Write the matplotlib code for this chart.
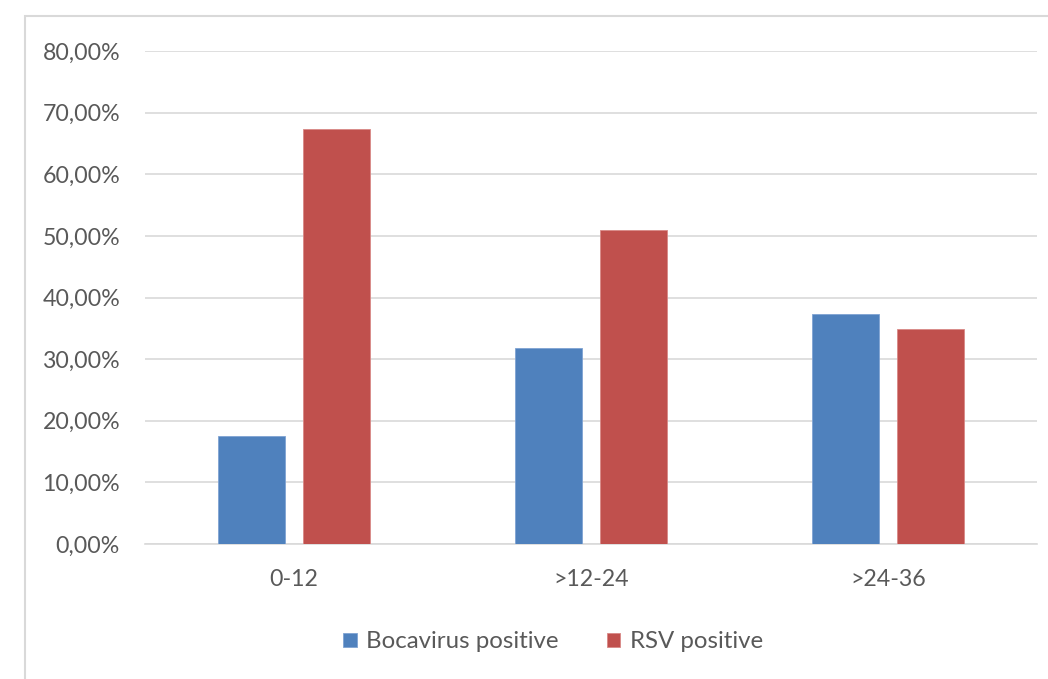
import numpy as np
import matplotlib.pyplot as plt
from matplotlib.patches import Rectangle
from matplotlib.ticker import FuncFormatter

categories = ["0-12", ">12-24", ">24-36"]
bocavirus = [17.5, 31.8, 37.3]
rsv = [67.3, 50.9, 34.85]
series_names = ["Bocavirus positive", "RSV positive"]

blue = "#4F81BD"
red = "#C0504D"
text_col = "#595959"
grid_col = "#D9D9D9"

plt.rcParams['font.family'] = ['Lato', 'DejaVu Sans']

fig = plt.figure(figsize=(10.48, 6.79), dpi=100)
W, H = 1048, 679

# outer chart frame (cut off at right and bottom in the reference)
fig.patches.append(Rectangle((25 / W, -0.1), 1.2, 1 - 16 / H + 0.1,
                             transform=fig.transFigure, fill=False,
                             edgecolor=grid_col, linewidth=1.5))

ax = fig.add_axes([145 / W, 1 - 544 / H, (1037 - 145) / W, (544 - 51) / H])

x = np.arange(len(categories))
w = 0.225
off = 0.1427
ax.bar(x - off, bocavirus, w, color=blue, edgecolor="#7FA3D3", linewidth=0.6,
       label=series_names[0], zorder=3)
ax.bar(x + off, rsv, w, color=red, edgecolor="#D98886", linewidth=0.6,
       label=series_names[1], zorder=3)

ax.set_xlim(-0.5, 2.5)
ax.set_ylim(0, 80)
ax.set_yticks(np.arange(0, 81, 10))
ax.yaxis.set_major_formatter(FuncFormatter(lambda v, p: f"{v:.2f}%".replace(".", ",")))
ax.set_xticks(x)
ax.set_xticklabels(categories)

ax.grid(axis="y", color=grid_col, linewidth=1.2, zorder=0)
for s in ["top", "right", "left"]:
    ax.spines[s].set_visible(False)
ax.spines["bottom"].set_color(grid_col)
ax.spines["bottom"].set_linewidth(1.2)
ax.tick_params(axis="both", length=0, labelsize=16.7, labelcolor=text_col)
ax.tick_params(axis="y", pad=18)
ax.tick_params(axis="x", pad=18)

leg = fig.legend(loc="center", bbox_to_anchor=(553 / W, 1 - 642 / H), ncol=2,
                 frameon=False, fontsize=17.3, handlelength=0.55, handleheight=0.55,
                 handletextpad=0.4, columnspacing=2.0)
for t in leg.get_texts():
    t.set_color(text_col)

fig.savefig("out.png", dpi=100)
